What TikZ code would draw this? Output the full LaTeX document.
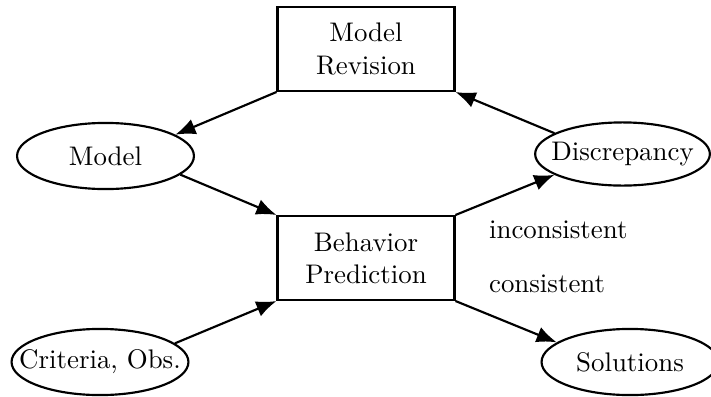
\documentclass[tikz,border=0pt]{standalone}
\usetikzlibrary{shapes.geometric,arrows.meta}
\begin{document}
\begin{tikzpicture}[x=0.372pt,y=-0.372pt,
  every path/.style={line width=0.8pt},
  boxnode/.style={draw,rectangle,minimum width=65.8pt,minimum height=31.2pt,inner sep=0pt,align=center},
  ellnode/.style={draw,ellipse,minimum width=65.8pt,minimum height=24.6pt,inner sep=0pt},
  lbl/.style={anchor=base west,inner sep=0pt},
  arr/.style={-{Latex[length=7.5pt,width=6pt]},line width=0.8pt}]
\useasboundingbox[fill=white] (0,0) rectangle (711,396);
\node[boxnode] (mr) at (366,49) {Model\\Revision};
\node[boxnode] (bp) at (366,258) {Behavior\\Prediction};
\node[ellnode] (model) at (105.5,156) {\makebox[0pt]{Model}};
\node[ellnode,minimum width=65pt,minimum height=23.5pt] (disc) at (622.5,154) {\makebox[0pt]{Discrepancy}};
\node[ellnode] (crit) at (100,362) {\makebox[0pt]{Criteria, Obs.}};
\node[ellnode] (sol) at (630,362) {\makebox[0pt]{Solutions}};
\node[lbl] (inc) at (488,238) {inconsistent};
\node[lbl] (con) at (488,292) {consistent};
\draw[arr] (mr.south west) -- (model.17);
\draw[arr] (model.-14) -- (bp.north west);
\draw[arr] (crit.14) -- (bp.south west);
\draw[arr] (bp.north east) -- (disc.197);
\draw[arr] (disc.163) -- (mr.south east);
\draw[arr] (bp.south east) -- (sol.165);
\end{tikzpicture}
\end{document}
